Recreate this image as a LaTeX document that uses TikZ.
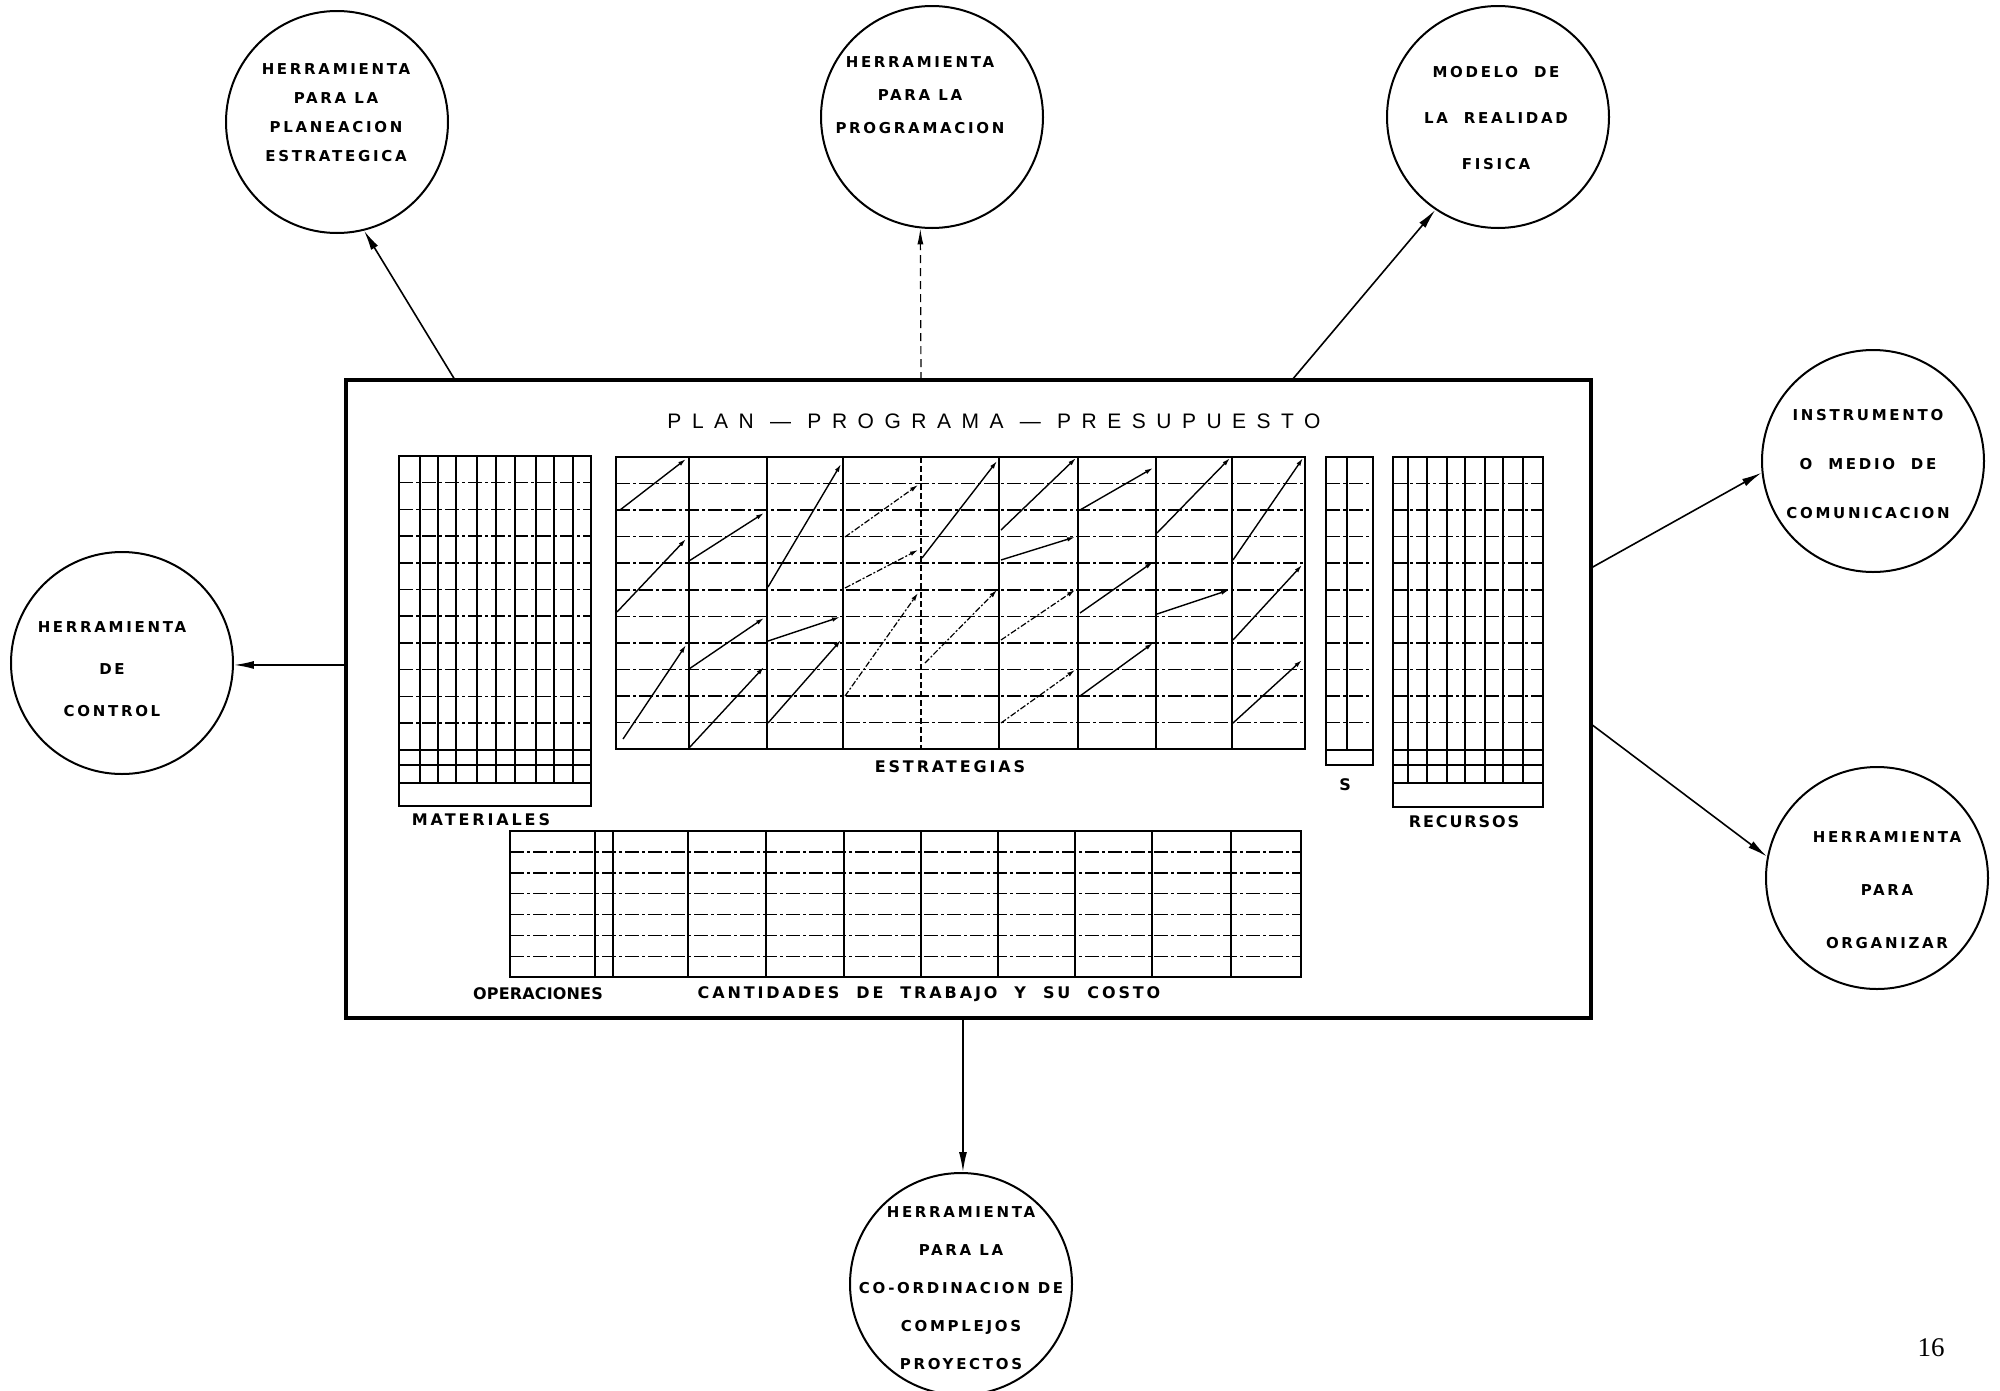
\documentclass[tikz,border=0pt]{standalone}
\usepackage{fontspec}
\setmainfont{Liberation Serif}
\newfontfamily\circfont[LetterSpace=18]{DejaVu Sans}
\newfontfamily\titlefont[LetterSpace=50]{Liberation Sans}
\newfontfamily\labfont[LetterSpace=18]{DejaVu Sans}
\usetikzlibrary{arrows.meta}
\tikzset{
  bubble/.style={circle, draw, line width=2pt, minimum size=222pt, inner sep=0pt},
  ctext/.style={font=\circfont\bfseries\fontsize{15pt}{#1}\selectfont, align=center, inner sep=0pt},
  link/.style={line width=1.6pt, -{Latex[length=20pt,width=8pt]}},
  dlink/.style={line width=1.2pt, dash pattern=on 8pt off 5pt, -{Latex[length=16pt,width=6pt]}},
  frame/.style={line width=2.8pt},
  vline/.style={line width=1.3pt},
  hline/.style={line width=2.2pt},
  hdash/.style={line width=1.5pt, dash pattern=on 14pt off 3pt on 3pt off 3pt},
  sarrow/.style={line width=1.4pt, -{Latex[length=8pt,width=4.5pt]}},
  farrow/.style={line width=1.2pt, dash pattern=on 6pt off 2pt on 2pt off 2pt, -{Latex[length=8pt,width=4.5pt]}},
  lab/.style={font=\labfont\bfseries\fontsize{16pt}{18pt}\selectfont, inner sep=0pt},
}
\newcommand{\wsp}{\hspace*{17pt}}
\begin{document}
\begin{tikzpicture}[x=1pt, y=-1pt]
\useasboundingbox (0,0) rectangle (2000,1390);

% main frame
\node[draw, line width=4.5pt, minimum width=1245pt, minimum height=638pt, inner sep=0pt] (plan) at (968.5,699) {};
\node[font=\titlefont\fontsize{21pt}{24pt}\selectfont, inner sep=0pt] (title) at (994,421) {PLAN — PROGRAMA — PRESUPUESTO};

% MATERIALES grid
\draw[frame] (399,456) rectangle (591,806);
\foreach \x in {420,438,456,477,496,515,536,554,573} \draw[vline] (\x,456) -- (\x,783);
\foreach \k in {1,...,10} \draw[hdash] (399,{456+26.7*\k}) -- (591,{456+26.7*\k});
\draw[vline] (399,750) -- (591,750);
\draw[hline] (399,765) -- (591,765);
\draw[hline] (399,783) -- (591,783);
\node[lab] (mat) at (481,820) {MATERIALES};

% ESTRATEGIAS grid
\draw[frame] (616,457) rectangle (1305,749);
\foreach \x in {689,767,843,999,1078,1156,1232} \draw[vline] (\x,457) -- (\x,749);
\draw[line width=1.1pt, dash pattern=on 6pt off 3pt] (921,457) -- (921,749);
\foreach \k in {1,...,10} \draw[hdash] (616,{457+26.55*\k}) -- (1305,{457+26.55*\k});
\foreach \a/\b/\c/\d in {620/510/686/459, 617/612/686/539, 623/739/686/645,
  689/561/764/513, 689/669/764/618, 689/748/764/667,
  768/587/841/464, 768/641/840/617, 768/723/841/640,
  922/558/997/461,
  1001/530/1076/458, 1001/560/1075/537,
  1080/510/1153/468, 1080/613/1153/562, 1080/696/1153/643,
  1157/533/1230/458, 1157/614/1229/590,
  1233/560/1303/458, 1233/640/1302/565, 1233/723/1302/660}
  \draw[sarrow] (\a,\b) -- (\c,\d);
\foreach \a/\b/\c/\d in {845/537/918/485, 845/588/918/550, 845/696/918/593,
  925/663/997/590, 1001/640/1075/590, 1001/723/1075/670}
  \draw[farrow] (\a,\b) -- (\c,\d);
\node[lab] (estr) at (950,767) {ESTRATEGIAS};

% S column
\draw[frame] (1326,457) rectangle (1373,765);
\draw[vline] (1347,457) -- (1347,750);
\draw[vline] (1326,750) -- (1373,750);
\foreach \k in {1,...,10} \draw[hdash] (1326,{457+26.55*\k}) -- (1373,{457+26.55*\k});
\node[lab] (s) at (1345,785) {S};

% RECURSOS grid
\draw[frame] (1393,457) rectangle (1543,807);
\foreach \x in {1408,1427,1447,1465,1485,1503,1523} \draw[vline] (\x,457) -- (\x,783);
\foreach \k in {1,...,10} \draw[hdash] (1393,{457+26.55*\k}) -- (1543,{457+26.55*\k});
\draw[vline] (1393,750) -- (1543,750);
\draw[hline] (1393,765) -- (1543,765);
\draw[hline] (1393,783) -- (1543,783);
\node[lab] (rec) at (1464,822) {\addfontfeatures{LetterSpace=12}RECURSOS};

% OPERACIONES / CANTIDADES grid
\draw[frame] (510,831) rectangle (1301,977);
\foreach \x in {595,613,766,844,921,998,1075,1152,1231} \draw[vline] (\x,831) -- (\x,977);
\draw[line width=2.2pt] (688,831) -- (688,977);
\foreach \k in {1,...,6} \draw[hdash] (510,{831+20.9*\k}) -- (1301,{831+20.9*\k});
\node[lab] (oper) at (538,994) {\addfontfeatures{LetterSpace=1}OPERACIONES};
\node[lab] (cant) at (929,994) {CANTIDADES\wsp DE\wsp TRABAJO\wsp Y\wsp SU\wsp COSTO};

% circles
\node[bubble] (c1) at (337,122) {};
\node[bubble] (c2) at (932,117) {};
\node[bubble] (c3) at (1498,117) {};
\node[bubble] (c4) at (1873,461) {};
\node[bubble] (c5) at (1877,878) {};
\node[bubble] (c6) at (122,663) {};
\node[bubble] (c7) at (961,1284) {};

\node[ctext=29pt] (t1) at (336,113) {HERRAMIENTA\\PARA LA\\PLANEACION\\ESTRATEGICA};
\node[ctext=33pt] (t2) at (920,95) {HERRAMIENTA\\PARA LA\\PROGRAMACION};
\node[ctext=46pt] (t3) at (1496,118) {MODELO\ \ DE\\LA\ \ REALIDAD\\FISICA};
\node[ctext=49pt] (t4) at (1868,464) {INSTRUMENTO\\O\ \ MEDIO\ \ DE\\COMUNICACION};
\node[ctext=53pt] (t5) at (1887,890) {HERRAMIENTA\\PARA\\ORGANIZAR};
\node[ctext=42pt] (t6) at (112,669) {HERRAMIENTA\\DE\\CONTROL};
\node[ctext=38pt] (t7) at (961,1288) {HERRAMIENTA\\PARA LA\\CO-ORDINACION DE\\COMPLEJOS\\PROYECTOS};

% connector start points on the frame
\coordinate (s1) at (455,380);
\coordinate (s2) at (921,380);
\coordinate (s3) at (1292,380);
\coordinate (s4) at (1591,568);
\coordinate (s5) at (1591,724);
\coordinate (s6) at (346,665);
\coordinate (s7) at (963,1018);

\draw[link] (s1) -- (c1.-76);
\draw[dlink] (s2) -- (c2.-96);
\draw[link] (s3) -- (c3.-124);
\draw[link] (s4) -- (c4.-174);
\draw[link] (s5) -- (c5.169);
\draw[link] (s6) -- (c6.-1);
\draw[link] (s7) -- (c7.89);

\node[font=\fontsize{27pt}{30pt}\selectfont, inner sep=0pt] (page) at (1931,1348) {16};
\end{tikzpicture}
\end{document}
